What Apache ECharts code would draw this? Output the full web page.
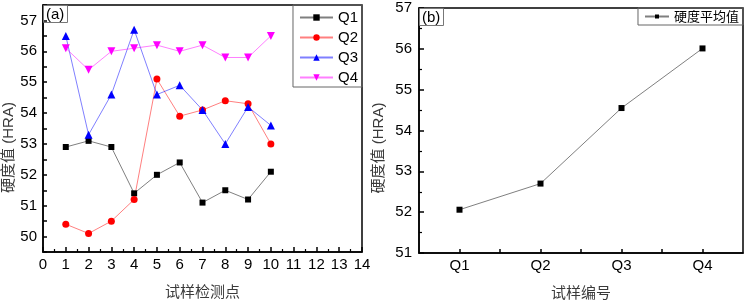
<!DOCTYPE html>
<html>
<head>
<meta charset="utf-8">
<script src="https://cdn.jsdelivr.net/npm/echarts@6/dist/echarts.min.js"></script>
<style>
  body { margin: 0; background: #fff; }
  #main { width: 747px; height: 300px; }
</style>
</head>
<body>
<div id="main"></div>
<script>
// (a) 各试样检测点硬度
var points = [1, 2, 3, 4, 5, 6, 7, 8, 9, 10]
var q1 = [52.9, 53.1, 52.9, 51.4, 52.0, 52.4, 51.1, 51.5, 51.2, 52.1]
var q2 = [50.4, 50.1, 50.5, 51.2, 55.1, 53.9, 54.1, 54.4, 54.3, 53.0]
var q3 = [56.5, 53.3, 54.6, 56.7, 54.6, 54.9, 54.1, 53.0, 54.2, 53.6]
var q4 = [56.1, 55.4, 56.0, 56.1, 56.2, 56.0, 56.2, 55.8, 55.8, 56.5]

// (b) 硬度平均值
var samples = ['Q1', 'Q2', 'Q3', 'Q4']
var avgHardness = [52.06, 52.7, 54.55, 56.01]

var font = 'Liberation Sans, Arial, Noto Sans CJK SC'
var nameColor = '#3a3a3a'

function pairs (xs, ys) {
  return ys.map(function (y, i) { return [xs[i], y] })
}

function lineSeries (name, data, color, symbol, size, rotate) {
  return {
    name: name,
    type: 'line',
    xAxisIndex: 0,
    yAxisIndex: 0,
    data: pairs(points, data),
    symbol: symbol,
    symbolSize: size,
    symbolRotate: rotate || 0,
    itemStyle: { color: color },
    lineStyle: { color: color, width: 1, opacity: 0.5 },
    emphasis: { disabled: true },
    animation: false
  }
}

var axisLine = { show: true, lineStyle: { color: '#000', width: 1.5 } }
var labelStyle = { color: '#000', fontSize: 15, fontFamily: font }

var myChart = echarts.init(document.getElementById('main'))
myChart.setOption({
  backgroundColor: '#fff',
  title: [
    {
      text: '(a)', left: 43, top: 5,
      padding: [2, 3, 1, 3], borderColor: '#777', borderWidth: 1,
      textStyle: { fontSize: 15, fontWeight: 'normal', color: '#000', fontFamily: font }
    },
    {
      text: '(b)', left: 419, top: 8,
      padding: [2, 3, 1, 3], borderColor: '#777', borderWidth: 1,
      textStyle: { fontSize: 15, fontWeight: 'normal', color: '#000', fontFamily: font }
    }
  ],
  legend: [
    {
      data: ['Q1', 'Q2', 'Q3', 'Q4'],
      orient: 'vertical',
      right: 385, top: 5,
      itemWidth: 33, itemHeight: 8, itemGap: 5,
      padding: [5, 4, 2, 6],
      borderColor: '#666', borderWidth: 1,
      textStyle: { fontSize: 15, color: '#000', fontFamily: font }
    },
    {
      data: ['硬度平均值'],
      right: 4, top: 8,
      itemWidth: 24, itemHeight: 5,
      padding: [2, 4, 2, 6],
      borderColor: '#666', borderWidth: 1,
      textStyle: { fontSize: 13, color: '#000', fontFamily: 'Noto Sans CJK SC' }
    }
  ],
  grid: [
    { left: 43, right: 385, top: 5, bottom: 48, outerBoundsMode: 'none', show: true, borderColor: '#000', borderWidth: 1.5 },
    { left: 419, right: 4, top: 8, bottom: 47, outerBoundsMode: 'none', show: true, borderColor: '#000', borderWidth: 1.5 }
  ],
  xAxis: [
    {
      gridIndex: 0,
      type: 'value',
      min: 0, max: 14, interval: 1,
      name: '试样检测点',
      nameLocation: 'middle', nameGap: 33,
      nameTextStyle: { fontSize: 15, color: nameColor, fontFamily: font },
      axisLine: axisLine,
      axisTick: { inside: true, length: 5, lineStyle: { color: '#000', width: 1.5 } },
      minorTick: { show: true, splitNumber: 2, length: 3, lineStyle: { color: '#000', width: 1.2 } },
      axisLabel: Object.assign({ margin: 5 }, labelStyle),
      splitLine: { show: false }
    },
    {
      gridIndex: 1,
      type: 'value',
      min: 0.5, max: 4.5, interval: 0.5,
      name: '试样编号',
      nameLocation: 'middle', nameGap: 33,
      nameTextStyle: { fontSize: 15, color: nameColor, fontFamily: font },
      axisLine: axisLine,
      axisTick: { inside: true, length: 4, lineStyle: { color: '#000', width: 1.5 } },
      axisLabel: Object.assign({
        margin: 5,
        showMinLabel: false,
        showMaxLabel: false,
        formatter: function (v) { return v % 1 === 0 ? samples[v - 1] : '' }
      }, labelStyle),
      splitLine: { show: false }
    }
  ],
  yAxis: [
    {
      gridIndex: 0,
      type: 'value',
      min: 49.5, max: 57.5, interval: 0.5,
      name: '硬度值 (HRA)',
      nameLocation: 'middle', nameGap: 25,
      nameTextStyle: { fontSize: 15, color: nameColor, fontFamily: font, padding: [0, 38, 0, 0] },
      axisLine: axisLine,
      axisTick: { inside: true, length: 4, lineStyle: { color: '#000', width: 1.5 } },
      axisLabel: Object.assign({
        margin: 6,
        formatter: function (v) { return v % 1 === 0 ? v : '' }
      }, labelStyle),
      splitLine: { show: false }
    },
    {
      gridIndex: 1,
      type: 'value',
      min: 51, max: 57, interval: 1,
      name: '硬度值 (HRA)',
      nameLocation: 'middle', nameGap: 33,
      nameTextStyle: { fontSize: 15, color: nameColor, fontFamily: font, padding: [0, 35, 0, 0] },
      axisLine: axisLine,
      axisTick: { inside: true, length: 5, lineStyle: { color: '#000', width: 1.5 } },
      minorTick: { show: true, splitNumber: 2, length: 3, lineStyle: { color: '#000', width: 1.2 } },
      axisLabel: Object.assign({ margin: 7 }, labelStyle),
      splitLine: { show: false }
    }
  ],
  series: [
    lineSeries('Q1', q1, '#000000', 'rect', 6),
    lineSeries('Q2', q2, '#ff0000', 'circle', 7),
    lineSeries('Q3', q3, '#0000ff', 'triangle', 8),
    lineSeries('Q4', q4, '#ff00ff', 'triangle', 8, 180),
    {
      name: '硬度平均值',
      type: 'line',
      xAxisIndex: 1,
      yAxisIndex: 1,
      data: avgHardness.map(function (v, i) { return [i + 1, v] }),
      symbol: 'rect',
      symbolSize: 6,
      itemStyle: { color: '#000' },
      lineStyle: { color: '#000', width: 1, opacity: 0.5 },
      emphasis: { disabled: true },
      animation: false
    }
  ]
})
</script>
</body>
</html>
